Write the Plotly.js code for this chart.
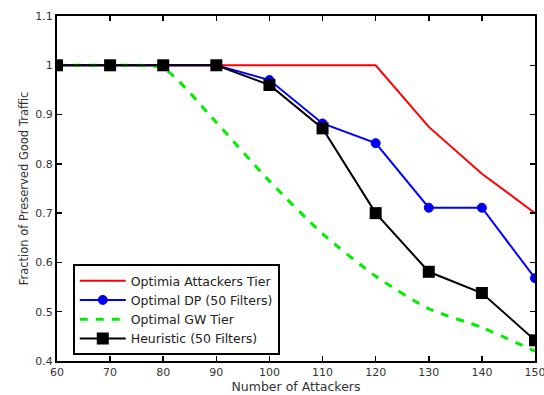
<!DOCTYPE html>
<html><head><meta charset="utf-8">
<script src="https://cdn.plot.ly/plotly-3.0.1.min.js"></script>
<style>html,body{margin:0;padding:0;background:#fff}#chart{width:544px;height:395px}</style>
</head><body><div id="chart"></div>
<script>
var attackers = [60, 70, 80, 90, 100, 110, 120, 130, 140, 150];
var optimiaAttackersTier = [1, 1, 1, 1, 1, 1, 1, 0.875, 0.78, 0.70];
var optimalDP = [1, 1, 1, 1, 0.97, 0.882, 0.842, 0.711, 0.711, 0.568];
var optimalGW = [1, 1, 0.994, 0.884, 0.765, 0.658, 0.572, 0.506, 0.468, 0.42];
var heuristic = [1, 1, 1, 1, 0.96, 0.872, 0.70, 0.581, 0.538, 0.442];
var seriesNames = ['Optimia Attackers Tier', 'Optimal DP (50 Filters)', 'Optimal GW Tier', 'Heuristic (50 Filters)'];
var xTicks = [60, 70, 80, 90, 100, 110, 120, 130, 140, 150];
var yTicks = [0.4, 0.5, 0.6, 0.7, 0.8, 0.9, 1, 1.1];
var yTickText = ['0.4', '0.5', '0.6', '0.7', '0.8', '0.9', '1', '1.1'];

var traces = [
  {x: attackers, y: optimiaAttackersTier, name: seriesNames[0], mode: 'lines',
   line: {color: '#ff0000', width: 2}},
  {x: attackers, y: optimalDP, name: seriesNames[1], mode: 'lines+markers',
   line: {color: '#0000ff', width: 2},
   marker: {symbol: 'circle', size: 9, color: '#0000ff', line: {color: '#0000cc', width: 1}}},
  {x: attackers, y: optimalGW, name: seriesNames[2], mode: 'lines',
   line: {color: '#00ee00', width: 3, dash: '8px,8px', shape: 'spline', smoothing: 0.6}},
  {x: attackers, y: heuristic, name: seriesNames[3], mode: 'lines+markers',
   line: {color: '#000000', width: 2},
   marker: {symbol: 'square', size: 12, color: '#000000'}}
];

var axisCommon = {
  showline: true, linecolor: '#000', linewidth: 2, mirror: 'ticks',
  ticks: 'inside', ticklen: 5, tickwidth: 1.5, tickcolor: '#000',
  showgrid: false, zeroline: false, ticklabeloverflow: 'allow',
  tickfont: {family: 'DejaVu Sans, sans-serif', size: 11, color: '#333'}
};

var layout = {
  width: 544, height: 395,
  margin: {l: 57, r: 9, t: 16, b: 34},
  paper_bgcolor: '#fff', plot_bgcolor: '#fff',
  showlegend: true,
  xaxis: Object.assign({}, axisCommon, {
    range: [60, 150], tickvals: xTicks, ticktext: xTicks.map(String),
    title: {text: 'Number of Attackers', standoff: 0,
            font: {family: 'DejaVu Sans, sans-serif', size: 12.5, color: '#333'}}
  }),
  yaxis: Object.assign({}, axisCommon, {
    range: [0.4, 1.1], tickvals: yTicks, ticktext: yTickText,
    title: {text: 'Fraction of Preserved Good Traffic', standoff: 4,
            font: {family: 'DejaVu Sans, sans-serif', size: 11.5, color: '#333'}}
  }),
  legend: {
    x: 0.033, y: 0.281, xanchor: 'left', yanchor: 'top',
    bgcolor: '#fff', bordercolor: '#000', borderwidth: 2,
    font: {family: 'DejaVu Sans, sans-serif', size: 12.5, color: '#222'},
    tracegroupgap: 0, itemwidth: 46
  }
};

Plotly.newPlot('chart', traces, layout, {displayModeBar: false, staticPlot: true});
</script></body></html>
